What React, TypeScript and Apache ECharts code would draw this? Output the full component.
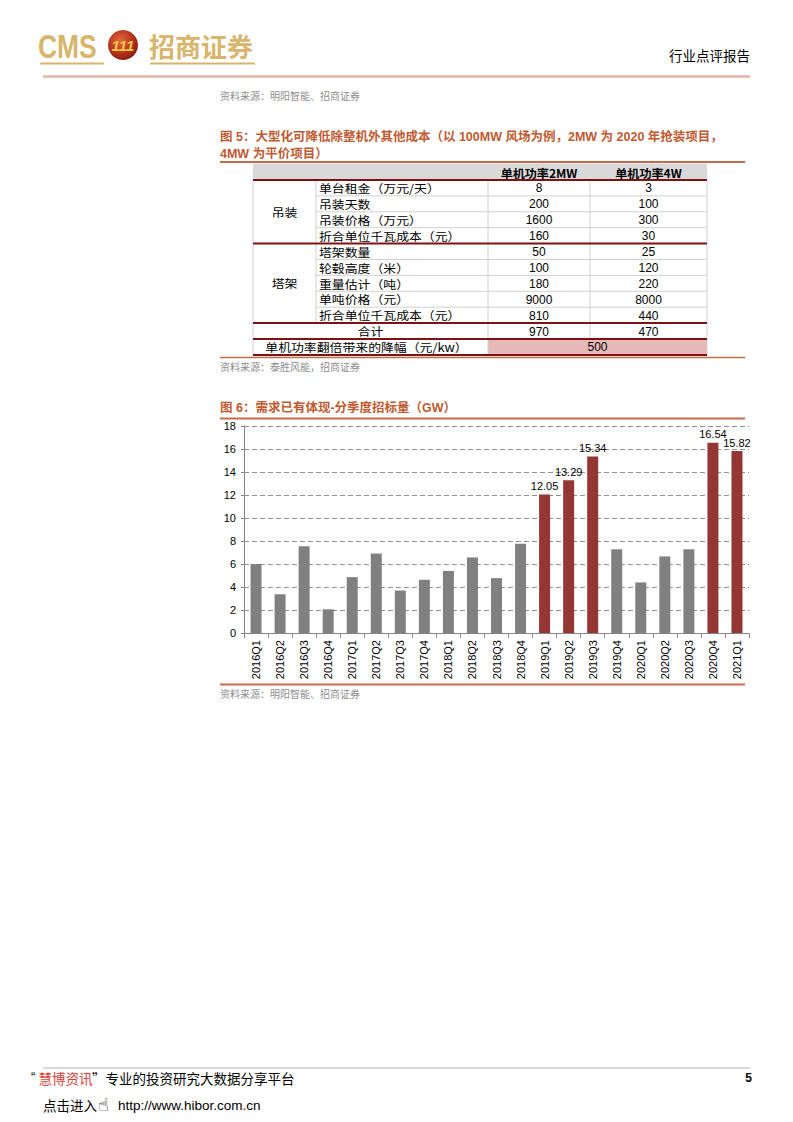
import React, { useEffect, useRef } from "react";
import * as echarts from "echarts";

// ---------- Chart data (图6) ----------
const quarters = [
  "2016Q1", "2016Q2", "2016Q3", "2016Q4",
  "2017Q1", "2017Q2", "2017Q3", "2017Q4",
  "2018Q1", "2018Q2", "2018Q3", "2018Q4",
  "2019Q1", "2019Q2", "2019Q3", "2019Q4",
  "2020Q1", "2020Q2", "2020Q3", "2020Q4",
  "2021Q1",
];
const bidVolumeGW = [
  6.0, 3.37, 7.54, 2.06,
  4.86, 6.91, 3.69, 4.63,
  5.4, 6.57, 4.77, 7.77,
  12.05, 13.29, 15.34, 7.28,
  4.4, 6.66, 7.28, 16.54,
  15.82,
];
const highlightQuarters = ["2019Q1", "2019Q2", "2019Q3", "2020Q4", "2021Q1"];
const yMin = 0;
const yMax = 18;
const yInterval = 2;

// ---------- Table data (图5) ----------
const tableHeaders = ["单机功率2MW", "单机功率4W"];
const hoistGroup = "吊装";
const hoistItems = ["单台租金（万元/天）", "吊装天数", "吊装价格（万元）", "折合单位千瓦成本（元）"];
const hoist2MW = [8, 200, 1600, 160];
const hoist4MW = [3, 100, 300, 30];
const towerGroup = "塔架";
const towerItems = ["塔架数量", "轮毂高度（米）", "重量估计（吨）", "单吨价格（元）", "折合单位千瓦成本（元）"];
const tower2MW = [50, 100, 180, 9000, 810];
const tower4MW = [25, 120, 220, 8000, 440];
const totalLabel = "合计";
const totalValues = [970, 470];
const reductionLabel = "单机功率翻倍带来的降幅（元/kw）";
const reductionValue = 500;

// ---------- Texts ----------
const headerRight = "行业点评报告";
const source1 = "资料来源：明阳智能、招商证券";
const fig5Title1 = "图 5：大型化可降低除整机外其他成本（以 100MW 风场为例，2MW 为 2020 年抢装项目，";
const fig5Title2 = "4MW 为平价项目）";
const source2 = "资料来源：泰胜风能，招商证券";
const fig6Title = "图 6：需求已有体现-分季度招标量（GW）";
const source3 = "资料来源：明阳智能、招商证券";

const FONT = "'Liberation Sans', 'Noto Sans CJK SC', sans-serif";
const CJK = "'Noto Sans CJK SC', 'Liberation Sans', sans-serif";
const TITLE_COLOR = "#bf5a31";
const RULE_COLOR = "#c66c4b";
const DARK_RED = "#7e1212";
const GRID_GRAY = "#d0d0d0";
const GOLD = "#d8b56c";
const CELL_SCALE = 1.12;

function txt(x: number, y: number, text: string, o: any = {}) {
  const align = o.align || "left";
  const valign = o.valign || "middle";
  return {
    type: "text",
    x,
    y,
    z: 10,
    scaleX: o.scaleX || 1,
    style: {
      text,
      fill: o.fill || "#000",
      fontSize: o.size || 12,
      fontFamily: o.family || FONT,
      fontWeight: o.weight || "normal",
      fontStyle: o.style || "normal",
      align,
      verticalAlign: valign,
      textAlign: align,
      textVerticalAlign: valign,
    },
  };
}
function hline(x1: number, x2: number, y: number, stroke: string, w = 1) {
  return { type: "line", z: 5, shape: { x1, y1: y, x2, y2: y }, style: { stroke, lineWidth: w } };
}
function vline(x: number, y1: number, y2: number, stroke: string, w = 1) {
  return { type: "line", z: 5, shape: { x1: x, y1, x2: x, y2 }, style: { stroke, lineWidth: w } };
}
function rect(x: number, y: number, width: number, height: number, fill: string) {
  return { type: "rect", z: 1, shape: { x, y, width, height }, style: { fill } };
}

function buildTable() {
  const els: any[] = [];
  const X0 = 253, X1 = 316, X2 = 488, X3 = 590, X4 = 707;
  const headTop = 163.5, headBot = 180;
  const rowH = 15.9;
  const nRows = hoistItems.length + towerItems.length + 2;
  const rowY = (i: number) => headBot + i * rowH;
  const c2 = (X2 + X3) / 2, c3 = (X3 + X4) / 2;

  // header bg
  els.push(rect(X0, headTop, X4 - X0, headBot - headTop, "#d9d9d9"));
  els.push(txt(c2, (headTop + headBot) / 2 + 0.5, tableHeaders[0], { align: "center", size: 11.5, weight: "bold", family: CJK, scaleX: 1.05 }));
  els.push(txt(c3, (headTop + headBot) / 2 + 0.5, tableHeaders[1], { align: "center", size: 11.5, weight: "bold", family: CJK, scaleX: 1.05 }));

  // reduction row bg
  const lastTop = rowY(nRows - 1);
  els.push(rect(X2, lastTop, X4 - X2, rowH, "#e6b9b8"));

  // rows
  const items = [...hoistItems, ...towerItems];
  const v2 = [...hoist2MW, ...tower2MW];
  const v4 = [...hoist4MW, ...tower4MW];
  items.forEach((it, i) => {
    const cy = rowY(i) + rowH / 2 + 0.5;
    els.push(txt(X1 + 3, cy, it, { size: 11.5, family: CJK, scaleX: CELL_SCALE }));
    els.push(txt(c2, cy, String(v2[i]), { align: "center", size: 12 }));
    els.push(txt(c3, cy, String(v4[i]), { align: "center", size: 12 }));
  });
  // group labels
  const hoistMid = headBot + (hoistItems.length * rowH) / 2;
  const towerMid = rowY(hoistItems.length) + (towerItems.length * rowH) / 2;
  els.push(txt((X0 + X1) / 2, hoistMid, hoistGroup, { align: "center", size: 11.5, family: CJK, scaleX: CELL_SCALE }));
  els.push(txt((X0 + X1) / 2, towerMid, towerGroup, { align: "center", size: 11.5, family: CJK, scaleX: CELL_SCALE }));
  // total row
  const totIdx = items.length;
  const totCy = rowY(totIdx) + rowH / 2 + 0.5;
  els.push(txt((X0 + X2) / 2, totCy, totalLabel, { align: "center", size: 11.5, family: CJK, scaleX: CELL_SCALE }));
  els.push(txt(c2, totCy, String(totalValues[0]), { align: "center", size: 12 }));
  els.push(txt(c3, totCy, String(totalValues[1]), { align: "center", size: 12 }));
  // reduction row
  const redCy = lastTop + rowH / 2 + 0.5;
  els.push(txt((X0 + X2) / 2 - 4, redCy, reductionLabel, { align: "center", size: 11.5, family: CJK, scaleX: CELL_SCALE }));
  els.push(txt((X2 + X4) / 2, redCy, String(reductionValue), { align: "center", size: 12 }));

  // thin grid lines
  for (let i = 1; i < items.length; i++) {
    if (i === hoistItems.length) continue;
    els.push(hline(X1, X4, rowY(i), GRID_GRAY));
  }
  els.push(vline(X0, headBot, rowY(nRows), GRID_GRAY));
  els.push(vline(X4, headBot, rowY(nRows), GRID_GRAY));
  els.push(vline(X1, headBot, rowY(items.length), GRID_GRAY));
  els.push(vline(X2, headBot, rowY(nRows), GRID_GRAY));
  els.push(vline(X3, headBot, rowY(nRows - 1), GRID_GRAY));

  // dark red rules
  els.push(hline(X0, X4, headBot, DARK_RED, 2));
  els.push(hline(X0, X4, rowY(hoistItems.length), DARK_RED, 2));
  els.push(hline(X0, X4, rowY(items.length), DARK_RED, 2));
  els.push(hline(X0, X4, rowY(items.length + 1), DARK_RED, 2));
  els.push(hline(X0, X4, rowY(nRows), DARK_RED, 2));
  return els;
}

function buildPage() {
  const els: any[] = [];
  // ---- header logo ----
  els.push(txt(38, 46, "CMS", { size: 33, weight: "bold", fill: GOLD, scaleX: 0.8 }));
  els.push({
    type: "circle",
    z: 6,
    shape: { cx: 123, cy: 45, r: 15 },
    style: {
      fill: new echarts.graphic.RadialGradient(0.4, 0.35, 0.75, [
        { offset: 0, color: "#e2683c" },
        { offset: 0.6, color: "#b3301c" },
        { offset: 1, color: "#7a140c" },
      ]),
    },
  });
  els.push(txt(123, 45, "111", { align: "center", size: 15, weight: "bold", style: "italic", fill: "#f4c64a" }));
  els.push(txt(149, 45, "招商证券", { size: 26, weight: "bold", fill: GOLD, family: CJK }));
  els.push(hline(40, 104, 63.5, GOLD, 2));
  els.push(hline(150, 255, 63.5, GOLD, 2));
  els.push(txt(750, 55, headerRight, { align: "right", size: 13.5, family: CJK }));
  els.push(hline(43, 750, 76.5, "#e3b6a6", 2.5));

  // ---- source of previous figure ----
  els.push(txt(220, 95, source1, { size: 10, fill: "#8c8c8c", family: CJK }));

  // ---- figure 5 ----
  els.push(txt(220, 137, fig5Title1, { size: 12.5, weight: "bold", fill: TITLE_COLOR }));
  els.push(txt(220, 154, fig5Title2, { size: 12.5, weight: "bold", fill: TITLE_COLOR }));
  els.push(hline(220, 745, 162, RULE_COLOR, 2));
  els.push(...buildTable());
  els.push(hline(220, 745, 357.5, RULE_COLOR, 1.5));
  els.push(txt(220, 366, source2, { size: 10, fill: "#8c8c8c", family: CJK }));

  // ---- figure 6 ----
  els.push(txt(220, 408, fig6Title, { size: 12.5, weight: "bold", fill: TITLE_COLOR }));
  els.push(hline(220, 745, 418.5, RULE_COLOR, 2));
  els.push(hline(220, 745, 684.5, RULE_COLOR, 2));
  els.push(txt(220, 693, source3, { size: 10, fill: "#8c8c8c", family: CJK }));

  // ---- footer ----
  els.push(hline(43, 750, 1068, "#b0b0b0", 1));
  els.push(txt(31, 1076, "“", { size: 13, family: "'Liberation Sans', sans-serif" }));
  els.push(txt(38.5, 1078, "慧博资讯", { size: 13.5, fill: "#e0413c", family: CJK }));
  els.push(txt(92, 1078, "”专业的投资研究大数据分享平台", { size: 13.5, family: CJK }));
  els.push(txt(752, 1078, "5", { align: "right", size: 12, weight: "bold" }));
  els.push(txt(43, 1105, "点击进入", { size: 13.5, family: CJK }));
  els.push(txt(98, 1104, "☝", { size: 18, family: "'DejaVu Sans', sans-serif" }));
  els.push(txt(118, 1105, "http://www.hibor.com.cn", { size: 13.5 }));
  return els;
}

export default function App() {
  const ref = useRef<HTMLDivElement>(null);
  useEffect(() => {
    if (!ref.current) return;
    const chart = echarts.init(ref.current, undefined, { renderer: "svg" });
    const barData = bidVolumeGW.map((v, i) => {
      const hi = highlightQuarters.includes(quarters[i]);
      return {
        value: v,
        itemStyle: { color: hi ? "#943634" : "#808080" },
        label: { show: hi },
      };
    });
    chart.setOption({
      animation: false,
      backgroundColor: "#ffffff",
      textStyle: { fontFamily: FONT },
      grid: { left: 244, right: 44, top: 426, bottom: 489, containLabel: false },
      xAxis: {
        type: "category",
        data: quarters,
        boundaryGap: true,
        axisLine: { show: true, lineStyle: { color: "#868686", width: 1 } },
        axisTick: { show: true, alignWithLabel: false, length: 5, lineStyle: { color: "#868686" } },
        axisLabel: { rotate: 90, fontSize: 11, color: "#000", margin: 7, interval: 0, fontFamily: FONT },
        splitLine: { show: false },
      },
      yAxis: {
        type: "value",
        min: yMin,
        max: yMax,
        interval: yInterval,
        axisLine: { show: true, lineStyle: { color: "#868686", width: 1 } },
        axisTick: { show: true, length: 3, lineStyle: { color: "#868686" } },
        axisLabel: { fontSize: 11, color: "#000", margin: 8, fontFamily: FONT },
        splitLine: { show: true, lineStyle: { color: "#8f8f8f", type: [5, 3], width: 1 } },
      },
      series: [
        {
          type: "bar",
          data: barData,
          barWidth: 11,
          label: { position: "top", fontSize: 11, color: "#000", distance: 3, fontFamily: FONT },
        },
      ],
      graphic: { elements: buildPage() },
    });
    return () => chart.dispose();
  }, []);
  return (
    <div
      ref={ref}
      style={{ position: "absolute", left: 0, top: 0, width: 793, height: 1122, background: "#fff" }}
    />
  );
}
